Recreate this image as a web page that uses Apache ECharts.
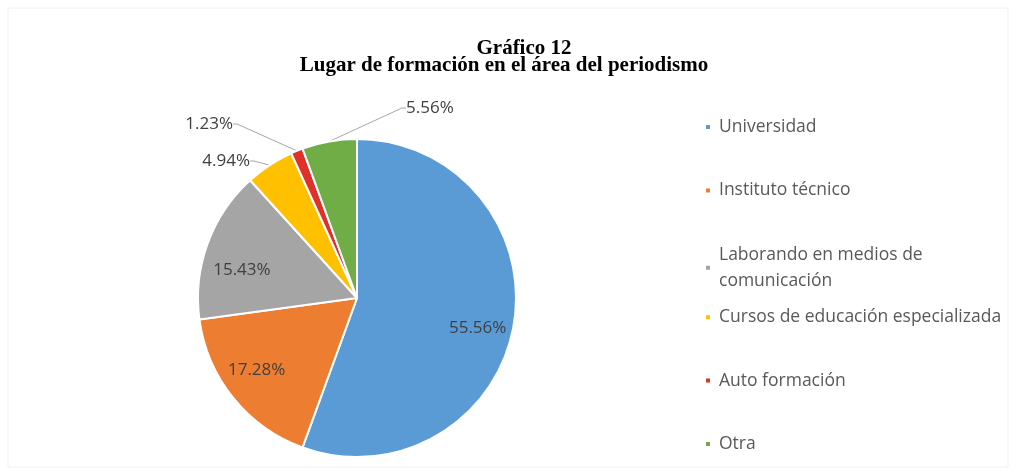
<!DOCTYPE html>
<html><head><meta charset="utf-8">
<script src="https://cdn.jsdelivr.net/npm/echarts@6/dist/echarts.min.js"></script>
<style>html,body{margin:0;padding:0;background:#fff}#c{width:1016px;height:475px}</style>
</head><body><div id="c"></div>
<script>
var categories = ['Universidad','Instituto técnico','Laborando en medios de\ncomunicación','Cursos de educación especializada','Auto formación','Otra'];
var values = [55.56, 17.28, 15.43, 4.94, 1.23, 5.56];
var colors = ['#5B9BD5','#ED7D31','#A5A5A5','#FFC000','#E0302A','#70AD47'];
var titleLines = ['Gráfico 12','Lugar de formación en el área del periodismo'];

var chart = echarts.init(document.getElementById('c'));
var insideIdx = [0,1,2];
var legends = categories.map(function(n,i){
  return {orient:'vertical', left:699, top:(i === 2 ? 110 : 109) + i*63.4, data:[n], itemWidth:6, itemHeight:6, itemGap:0,
    icon:'rect', selectedMode:false,
    textStyle:{fontFamily:'Open Sans', fontSize:17.5, color:'#595959', lineHeight:26, padding:[0,0,0,3]}};
});
var smallPos = {3:[250,161,'right'], 4:[233,124,'right'], 5:[406,108,'left']};
var insideShift = {0:[0,9], 1:[-5,-5], 2:[0,14]};
var fmt = function(p){return p.value.toFixed(2)+'%';};
chart.setOption({
  animation:false,
  title:[
    {text:titleLines[0], left:519, top:33, textAlign:'center', textStyle:{fontFamily:'Liberation Serif', fontWeight:'bold', fontSize:21, lineHeight:21, color:'#000'}},
    {text:titleLines[1], left:499, top:50, textAlign:'center', textStyle:{fontFamily:'Liberation Serif', fontWeight:'bold', fontSize:21, lineHeight:21, color:'#000'}}
  ],
  legend: legends,
  graphic:[{type:'rect', shape:{x:8,y:8,width:1000,height:459}, style:{fill:'none', stroke:'#f0f0f0', lineWidth:1}, silent:true}],
  series:[
    {type:'pie', center:[357,298], radius:159, startAngle:90, clockwise:true,
     data:categories.map(function(n,i){
       var o = {name:n, value:values[i], itemStyle:{color:colors[i], borderColor:'#fff', borderWidth:2}};
       if (insideIdx.indexOf(i) >= 0) { o.label = {show:false}; o.labelLine = {show:false}; }
       return o;
     }),
     label:{show:true, position:'outside', formatter:fmt,
       fontFamily:'Open Sans', fontSize:17, color:'#404040'},
     labelLine:{show:true, length:8, length2:4, lineStyle:{color:'#a6a6a6', width:1}},
     labelLayout:function(p){
       var s = smallPos[p.dataIndex];
       if (!s) return {};
       return {x:s[0], y:s[1], align:s[2], verticalAlign:'middle'};
     }
    },
    {type:'pie', center:[357,298], radius:[80,159], startAngle:90, clockwise:true, silent:true,
     data:categories.map(function(n,i){
       return {name:n, value:values[i], itemStyle:{color:'rgba(0,0,0,0)'},
         label:{show: insideIdx.indexOf(i) >= 0}};
     }),
     label:{position:'inside', formatter:fmt,
       fontFamily:'Open Sans', fontSize:17, color:'#404040'},
     labelLine:{show:false},
     labelLayout:function(p){
       var s = insideShift[p.dataIndex];
       return s ? {dx:s[0], dy:s[1]} : {};
     }
    }
  ]
});
</script></body></html>
